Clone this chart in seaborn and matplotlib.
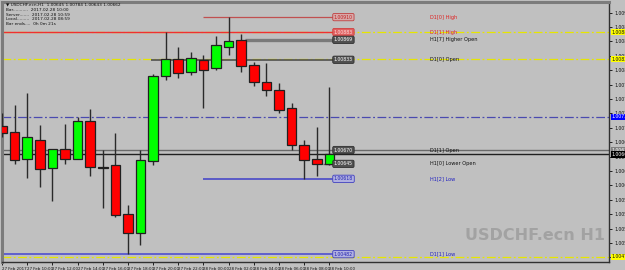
import matplotlib
matplotlib.use("Agg")
import matplotlib.pyplot as plt
import seaborn as sns
import pandas as pd
from matplotlib.transforms import blended_transform_factory
from matplotlib import font_manager

# ---------------- data ----------------
tick_labels = ["27 Feb 2017", "27 Feb 10:00", "27 Feb 12:00", "27 Feb 14:00", "27 Feb 16:00",
               "27 Feb 18:00", "27 Feb 20:00", "27 Feb 22:00", "28 Feb 00:00", "28 Feb 02:00",
               "28 Feb 04:00", "28 Feb 06:00", "28 Feb 08:00", "28 Feb 10:00"]
opens = [1.00713, 1.00703, 1.00654, 1.00688, 1.00638, 1.00672, 1.00654, 1.00722, 1.00639,
         1.00643, 1.00555, 1.00520, 1.00650, 1.00804, 1.00834, 1.00811, 1.00833, 1.00818,
         1.00856, 1.00869, 1.00824, 1.00793, 1.00778, 1.00746, 1.00679, 1.00654, 1.00645]
highs = [1.00737, 1.00751, 1.00773, 1.00715, 1.00672, 1.00717, 1.00730, 1.00744, 1.00670,
         1.00701, 1.00571, 1.00670, 1.00808, 1.00883, 1.00856, 1.00847, 1.00842, 1.00876,
         1.00910, 1.00880, 1.00829, 1.00827, 1.00791, 1.00755, 1.00688, 1.00712, 1.00784]
lows = [1.00694, 1.00645, 1.00620, 1.00603, 1.00578, 1.00645, 1.00654, 1.00623, 1.00565,
        1.00549, 1.00482, 1.00499, 1.00643, 1.00796, 1.00800, 1.00805, 1.00746, 1.00815,
        1.00842, 1.00811, 1.00786, 1.00768, 1.00737, 1.00670, 1.00618, 1.00623, 1.00643]
closes = [1.00701, 1.00652, 1.00694, 1.00636, 1.00672, 1.00654, 1.00722, 1.00639, 1.00638,
          1.00553, 1.00520, 1.00652, 1.00804, 1.00834, 1.00809, 1.00836, 1.00815, 1.00860,
          1.00867, 1.00822, 1.00793, 1.00778, 1.00742, 1.00679, 1.00652, 1.00645, 1.00662]

level_names = ["D1[0] High", "D1[1] High", "H1[7] Higher Open", "D1[0] Open",
               "D1[1] Open", "H1[0] Lower Open", "H1[2] Low", "D1[1] Low"]
level_prices = [1.00910, 1.00883, 1.00869, 1.00833, 1.00670, 1.00645, 1.00618, 1.00482]
level_start_bar = [16, 0, 19.3, 11.8, 0, 25.5, 16, 0]

yellow_levels = [1.00883, 1.00834, 1.00477]
blue_level = 1.00730
bid_price = 1.00662
axis_ticks = [round(1.00918 - 0.00026 * n, 5) for n in range(18)]

header_lines = ["\u25BC USDCHF.ecn,H1  1.00645 1.00784 1.00643 1.00662",
                "Bar...........  2017.02.28 10:00",
                "Server.......  2017.02.28 10:59",
                "Local.........  2017.02.28 08:59",
                "Bar ends....  0h 0m 21s"]
watermark = "USDCHF.ecn H1"

df = pd.DataFrame({"open": opens, "high": highs, "low": lows, "close": closes})
df["bar"] = range(len(df))

# ---------------- style ----------------
BG = "#C0C0C0"
sns.set_theme(style="white", rc={"axes.facecolor": BG, "figure.facecolor": BG})
plt.rcParams["font.family"] = ["DejaVu Sans"]

fig = plt.figure(figsize=(6.25, 2.7), dpi=100, facecolor=BG)
ax = fig.add_axes([2 / 625, 8 / 270, 607 / 625, 260 / 270])
ax.set_facecolor(BG)

x0, x1 = 0.04, 48.21
ax.set_xlim(x0, x1)
ax.set_ylim(1.004678, 1.009373)

# dash-dot reference lines
dd = (0, (7, 2, 1.5, 2))
for p in yellow_levels:
    ax.axhline(p, color="#E6E600", lw=0.9, ls=dd, zorder=1)
ax.axhline(blue_level, color="#4A4AB0", lw=0.9, ls=dd, zorder=1)

# level lines
label_x = 26.31
text_x = 34.0
styles = {
    "D1[0] High": dict(lc="#C05050", lw=0.9, fc="#D8A8A8", ec="#C04040", tc="#C02020", nc="#E02020"),
    "D1[1] High": dict(lc="#F03030", lw=1.0, fc="#E06060", ec="#D04040", tc="#FFE0E0", nc="#E02020"),
    "H1[7] Higher Open": dict(lc="#7A7A7A", lw=2.4, fc="#505050", ec="#303030", tc="#FFFFFF", nc="#101010"),
    "D1[0] Open": dict(lc="#505050", lw=1.2, fc="#505050", ec="#303030", tc="#FFFFFF", nc="#101010"),
    "D1[1] Open": dict(lc="#6A6A6A", lw=1.0, fc="#505050", ec="#303030", tc="#FFFFFF", nc="#101010"),
    "H1[0] Lower Open": dict(lc="#606060", lw=1.0, fc="#505050", ec="#303030", tc="#FFFFFF", nc="#101010"),
    "H1[2] Low": dict(lc="#4A4AC8", lw=1.2, fc="#B0B0E0", ec="#4040C0", tc="#2020B0", nc="#2020C0"),
    "D1[1] Low": dict(lc="#5050D0", lw=1.2, fc="#B0B0E0", ec="#4040C0", tc="#2020B0", nc="#2020C0"),
}
for name, price, start in zip(level_names, level_prices, level_start_bar):
    st = styles[name]
    end = x1 if name == "D1[1] Open" else label_x
    ax.hlines(price, start if start > 0 else x0, end, color=st["lc"], lw=st["lw"], zorder=2)
    ax.text(label_x + 0.05, price, f"{price:.5f}", fontsize=3.3, va="center", ha="left",
            color=st["tc"], zorder=6,
            bbox=dict(boxstyle="round,pad=0.25,rounding_size=0.3", fc=st["fc"], ec=st["ec"], lw=0.6))
    ax.text(text_x, price, name, fontsize=3.6, va="center", ha="left", color=st["nc"], zorder=6)

# bid line
ax.axhline(bid_price, color="#202020", lw=1.0, zorder=2)

# candles
up = df["close"] >= df["open"]
ax.vlines(df["bar"], df["low"], df["high"], color="#2A2A2A", lw=1.0, zorder=3)
bottoms = df[["open", "close"]].min(axis=1)
heights = (df["close"] - df["open"]).abs().clip(lower=0.000004)
colors = ["#00FF00" if u else "#FF0000" for u in up]
ax.bar(df["bar"], heights, bottom=bottoms, width=0.76, color=colors,
       edgecolor="#202020", linewidth=0.9, zorder=4)

# axes / ticks
ax.yaxis.tick_right()
ax.set_yticks(axis_ticks)
ax.set_yticklabels([f"{v:.5f}" for v in axis_ticks], fontsize=3.3, color="#101010")
ax.set_xticks(list(range(0, 27, 2)))
ax.set_xticklabels(tick_labels, fontsize=2.9, color="#101010", ha="left")
ax.tick_params(axis="both", direction="out", length=2.5, width=0.7, color="#202020", pad=1.2)
ax.tick_params(axis="y", right=True, left=False)
ax.tick_params(axis="x", bottom=True)
for s in ["right", "bottom"]:
    ax.spines[s].set_visible(True)
    ax.spines[s].set_color("#303030")
    ax.spines[s].set_linewidth(1.0)
for s in ["left", "top"]:
    ax.spines[s].set_visible(True)
    ax.spines[s].set_color("#7C7C7C")
    ax.spines[s].set_linewidth(2.2)

# price boxes on the right axis
tr = blended_transform_factory(ax.transAxes, ax.transData)
axis_boxes = [(yellow_levels[0], "#FFFF00", "#101010"), (yellow_levels[1], "#FFFF00", "#101010"),
              (yellow_levels[2], "#FFFF00", "#101010"), (blue_level, "#0000FF", "#FFFFFF"),
              (level_prices[4], "#808080", "#FFFFFF"), (bid_price, "#000000", "#FFFFFF")]
for p, fc, tc in axis_boxes:
    ax.text(1.004, p, f"{p:.5f}", transform=tr, fontsize=3.3, va="center", ha="left",
            color=tc, clip_on=False, zorder=7,
            bbox=dict(boxstyle="square,pad=0.15", fc=fc, ec="none"))

# header info text
for k, line in enumerate(header_lines):
    fig.text(6 / 625, 1 - (5 + 4.8 * k) / 270, line, fontsize=3.1, va="center", ha="left",
             color="#101010")

# watermark
fam = "DejaVu Sans"
try:
    font_manager.findfont(font_manager.FontProperties(family="Liberation Sans Narrow"),
                          fallback_to_default=False)
    fam = "Liberation Sans Narrow"
except Exception:
    pass
wm = fig.text(605 / 625, 1 - 235 / 270, watermark, fontsize=18, fontweight="bold",
              family=fam, color="#A2A2A2", ha="right", va="center", zorder=0)
fig.canvas.draw()
w = wm.get_window_extent().width
wm.set_fontsize(18 * 140 / w)

fig.savefig("out.png", dpi=100, facecolor=BG)
